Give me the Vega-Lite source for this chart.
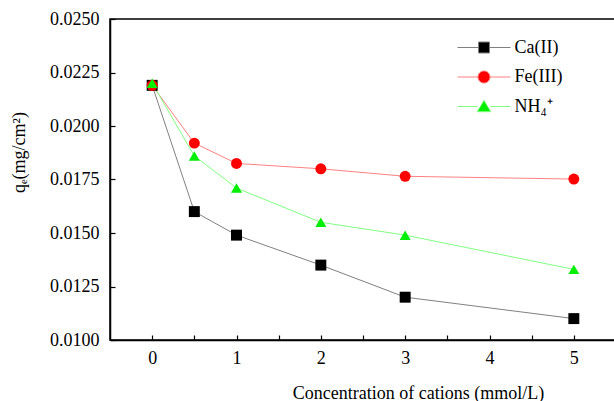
{
  "$schema": "https://vega.github.io/schema/vega-lite/v6.json",
  "width": 506,
  "height": 321,
  "autosize": {"type": "none"},
  "padding": {"left": 110, "top": 19, "right": 0, "bottom": 61},
  "background": "white",
  "config": {
    "view": {"stroke": "black", "strokeWidth": 1.5}
  },
  "data": {
    "values": [
      {"c": 0, "q": 0.0219, "s": "Ca(II)"},
      {"c": 0.5, "q": 0.0160, "s": "Ca(II)"},
      {"c": 1, "q": 0.0149, "s": "Ca(II)"},
      {"c": 2, "q": 0.0135, "s": "Ca(II)"},
      {"c": 3, "q": 0.0120, "s": "Ca(II)"},
      {"c": 5, "q": 0.0110, "s": "Ca(II)"},
      {"c": 0, "q": 0.0219, "s": "Fe(III)"},
      {"c": 0.5, "q": 0.0192, "s": "Fe(III)"},
      {"c": 1, "q": 0.01825, "s": "Fe(III)"},
      {"c": 2, "q": 0.0180, "s": "Fe(III)"},
      {"c": 3, "q": 0.01765, "s": "Fe(III)"},
      {"c": 5, "q": 0.01752, "s": "Fe(III)"},
      {"c": 0, "q": 0.0220, "s": "NH₄⁺"},
      {"c": 0.5, "q": 0.0186, "s": "NH₄⁺"},
      {"c": 1, "q": 0.0171, "s": "NH₄⁺"},
      {"c": 2, "q": 0.0155, "s": "NH₄⁺"},
      {"c": 3, "q": 0.0149, "s": "NH₄⁺"},
      {"c": 5, "q": 0.0133, "s": "NH₄⁺"}
    ]
  },
  "resolve": {"scale": {"fill": "independent", "shape": "independent", "stroke": "independent"}},
  "layer": [
    {
      "mark": {"type": "line", "strokeWidth": 1},
      "encoding": {
        "x": {
          "field": "c", "type": "quantitative",
          "scale": {"domain": [-0.5, 5.5], "nice": false, "zero": false},
          "axis": {
            "title": "Concentration of cations (mmol/L)",
            "values": [0, 0.5, 1, 1.5, 2, 2.5, 3, 3.5, 4, 4.5, 5, 5.5],
            "labelExpr": "datum.value % 1 === 0 ? format(datum.value, 'd') : ''",
            "tickSize": -5,
            "ticks": true,
            "grid": false,
            "labelFont": "Liberation Serif",
            "titleFont": "Liberation Serif",
            "labelFontSize": 18,
            "titleFontSize": 18,
            "titleFontWeight": "normal",
            "labelColor": "black",
            "titleColor": "black",
            "domainColor": "black",
            "domainWidth": 1.5,
            "tickColor": "black",
            "tickWidth": 1.2,
            "labelPadding": 14,
            "titleX": 308,
            "titleAlign": "center",
            "titlePadding": 17
          }
        },
        "y": {
          "field": "q", "type": "quantitative",
          "scale": {"domain": [0.01, 0.025], "nice": false, "zero": false},
          "axis": {
            "title": "qₑ(mg/cm²)",
            "values": [0.01, 0.01125, 0.0125, 0.01375, 0.015, 0.01625, 0.0175, 0.01875, 0.02, 0.02125, 0.0225, 0.02375, 0.025],
            "labelExpr": "round(datum.value * 10000) % 25 === 0 ? format(datum.value, '.4f') : ''",
            "tickSize": -5,
            "ticks": true,
            "grid": false,
            "labelFont": "Liberation Serif",
            "titleFont": "Liberation Serif",
            "labelFontSize": 18,
            "titleFontSize": 18,
            "titleFontWeight": "normal",
            "labelColor": "black",
            "titleColor": "black",
            "domainColor": "black",
            "domainWidth": 1.5,
            "tickColor": "black",
            "tickWidth": 1.2,
            "labelPadding": 16,
            "titleY": 133,
            "titleAlign": "center",
            "titlePadding": 21
          }
        },
        "stroke": {
          "field": "s", "type": "nominal",
          "scale": {"domain": ["Fe(III)", "Ca(II)", "NH₄⁺"], "range": ["#ff8080", "#808080", "#80ff80"]},
          "legend": null
        },
        "detail": {"field": "s"}
      }
    },
    {
      "mark": {"type": "point", "filled": true, "opacity": 1, "size": 120},
      "encoding": {
        "x": {"field": "c", "type": "quantitative"},
        "y": {"field": "q", "type": "quantitative"},
        "fill": {
          "field": "s", "type": "nominal",
          "scale": {"domain": ["Ca(II)", "Fe(III)", "NH₄⁺"], "range": ["#000000", "#ff0000", "#00ee00"]},
          "legend": null
        },
        "shape": {
          "field": "s", "type": "nominal",
          "scale": {"domain": ["Ca(II)", "Fe(III)", "NH₄⁺"], "range": ["square", "circle", "triangle-up"]},
          "legend": null
        }
      }
    },
    {
      "transform": [{"filter": "false"}],
      "mark": {"type": "point", "filled": true, "opacity": 1, "strokeWidth": 1},
      "encoding": {
        "x": {"field": "c", "type": "quantitative"},
        "y": {"field": "q", "type": "quantitative"},
        "fill": {
          "field": "s", "type": "nominal", "title": null,
          "scale": {"domain": ["Ca(II)", "Fe(III)", "NH₄⁺"], "range": ["#000000", "#ff0000", "#00ee00"]},
          "legend": {
            "orient": "none",
            "legendX": 363.5,
            "legendY": 18,
            "padding": 0,
            "symbolSize": 400,
            "symbolStrokeWidth": 1,
            "rowPadding": 9.5,
            "labelOffset": 20,
            "labelFont": "Liberation Serif",
            "labelFontSize": 18,
            "labelColor": "black"
          }
        },
        "shape": {
          "field": "s", "type": "nominal", "title": null,
          "scale": {
            "domain": ["Ca(II)", "Fe(III)", "NH₄⁺"],
            "range": [
              "M-2.65,0H-0.55M0.55,0H2.65M-0.55,-0.55H0.55V0.55H-0.55Z",
              "M-2.65,0H-0.6M0.6,0H2.65M0.6,0A0.6,0.6,0,1,1,-0.6,0A0.6,0.6,0,1,1,0.6,0Z",
              "M-2.65,0H-0.65M0.65,0H2.65M0,-0.62L0.68,0.52L-0.68,0.52Z"
            ]
          }
        },
        "stroke": {
          "field": "s", "type": "nominal", "title": null,
          "scale": {"domain": ["Ca(II)", "Fe(III)", "NH₄⁺"], "range": ["#808080", "#ff8080", "#80ff80"]}
        }
      }
    }
  ]
}
